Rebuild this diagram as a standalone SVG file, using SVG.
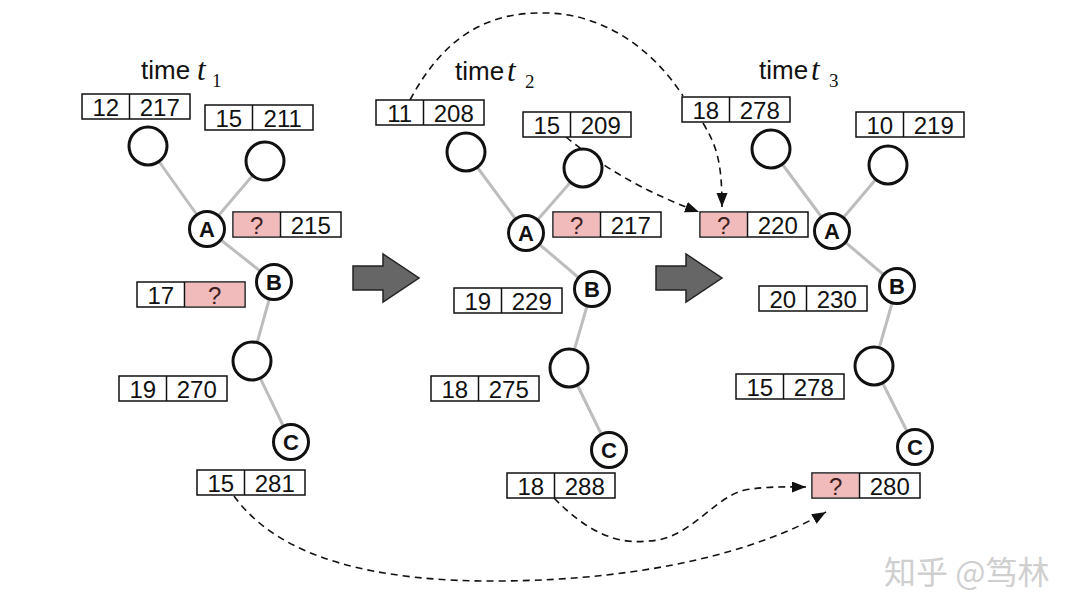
<svg xmlns="http://www.w3.org/2000/svg" width="1080" height="616" viewBox="0 0 1080 616">
<defs>
<marker id="ah" markerUnits="userSpaceOnUse" markerWidth="14" markerHeight="12" refX="14" refY="5.5" orient="auto">
<path d="M0,0 L14,5.5 L0,11 z" fill="#111"/>
</marker>
<style>
.bx{fill:#fff;stroke:#111;stroke-width:1.5}
.pk{fill:#f1bbbb}
.dv{stroke:#111;stroke-width:1.5}
.num{font-family:"Liberation Sans",Arial,sans-serif;font-size:24px;fill:#111;text-anchor:middle}
.q{fill:#3b1e1e}
.edge{stroke:#bdbdbd;stroke-width:3;fill:none}
.leaf{fill:#fff;stroke:#111;stroke-width:3}
.lab{fill:#fff;stroke:#111;stroke-width:3}
.lt{font-family:"Liberation Sans",Arial,sans-serif;font-size:22px;font-weight:bold;fill:#111;text-anchor:middle}
.tm{font-family:"Liberation Sans",Arial,sans-serif;font-size:26px;fill:#111}
.ti{font-family:"Liberation Serif","Times New Roman",serif;font-size:31px;font-style:italic;fill:#111}
.ts{font-family:"Liberation Serif","Times New Roman",serif;font-size:19px;fill:#111}
.dash{fill:none;stroke:#111;stroke-width:1.6;stroke-dasharray:7 5}
.big{fill:#666;stroke:#222;stroke-width:1.5;stroke-linejoin:miter}
.wm{font-family:"Noto Sans CJK SC","Liberation Sans",sans-serif;font-size:32px;fill:#cfcfcf}
</style>
</defs>
<rect width="1080" height="616" fill="#fff"/>

<!-- tree edges -->
<g id="edges">
<path class="edge" d="M148,146 L207,229 M265,161 L207,229 L274,282 L252,361 L291,442"/>
<path class="edge" d="M466,152 L526,233 M583,168 L526,233 L592,289 L569,368 L609,450"/>
<path class="edge" d="M771,149 L832,231 M888,165 L832,231 L897,286 L874,366 L915,447"/>
</g>

<!-- dashed connectors -->
<g id="connectors">
<path class="dash" d="M410,100 C450,25 500,12 547,13 C600,14 650,45 683,96"/>
<path class="dash" d="M703,123 C716,145 722,160 722,207" marker-end="url(#ah)"/>
<path class="dash" d="M566,137 C600,165 640,190 699,212" marker-end="url(#ah)"/>
<path class="dash" d="M234,496 C280,560 380,582 500,581 C650,580 760,550 826,512" marker-end="url(#ah)"/>
<path class="dash" d="M554,498 C585,530 615,545 648,541 C690,540 712,498 745,490 C768,486 786,487 806,487" marker-end="url(#ah)"/>
</g>

<!-- big arrows -->
<g id="arrow1"><polygon class="big" points="353,266 383,266 383,254 419,278 383,302 383,290 353,290"/></g>
<g id="arrow2"><polygon class="big" points="656,266 686,266 686,254 722,278 686,302 686,290 656,290"/></g>

<!-- titles -->
<g id="title1"><text class="tm" x="141" y="79">time</text><text class="ti" x="197" y="80">t</text><text class="ts" x="212" y="87">1</text></g>
<g id="title2"><text class="tm" x="455" y="80">time</text><text class="ti" x="507" y="81">t</text><text class="ts" x="525" y="88">2</text></g>
<g id="title3"><text class="tm" x="759" y="79">time</text><text class="ti" x="811" y="80">t</text><text class="ts" x="829" y="87">3</text></g>

<!-- panel 1 nodes -->
<g id="p1-leaf1"><circle class="leaf" cx="148" cy="146" r="19"/></g>
<g id="p1-leaf2"><circle class="leaf" cx="265" cy="161" r="19"/></g>
<g id="p1-A"><circle class="lab" cx="207" cy="229" r="17.5"/><text class="lt" x="207" y="237">A</text></g>
<g id="p1-B"><circle class="lab" cx="274" cy="282" r="17.5"/><text class="lt" x="274" y="290">B</text></g>
<g id="p1-mid"><circle class="leaf" cx="252" cy="361" r="19"/></g>
<g id="p1-C"><circle class="lab" cx="291" cy="442" r="17.5"/><text class="lt" x="291" y="450">C</text></g>

<g id="p1-b1" transform="translate(82,94)"><rect class="bx" width="108" height="25"/><line class="dv" x1="47.5" y1="0" x2="47.5" y2="25"/><text class="num" x="23.75" y="21.5">12</text><text class="num" x="77.75" y="21.5">217</text></g>
<g id="p1-b2" transform="translate(205,105)"><rect class="bx" width="108" height="25"/><line class="dv" x1="47.5" y1="0" x2="47.5" y2="25"/><text class="num" x="23.75" y="21.5">15</text><text class="num" x="77.75" y="21.5">211</text></g>
<g id="p1-b3" transform="translate(233,212)"><rect class="bx" width="108" height="25"/><rect class="pk" x="0.75" y="0.75" width="46" height="23.5"/><line class="dv" x1="47.5" y1="0" x2="47.5" y2="25"/><text class="num q" x="23.75" y="21.5">?</text><text class="num" x="77.75" y="21.5">215</text></g>
<g id="p1-b4" transform="translate(137,282)"><rect class="bx" width="108" height="25"/><rect class="pk" x="48.25" y="0.75" width="59" height="23.5"/><line class="dv" x1="47.5" y1="0" x2="47.5" y2="25"/><text class="num" x="23.75" y="21.5">17</text><text class="num q" x="77.75" y="21.5">?</text></g>
<g id="p1-b5" transform="translate(119,376)"><rect class="bx" width="108" height="25"/><line class="dv" x1="47.5" y1="0" x2="47.5" y2="25"/><text class="num" x="23.75" y="21.5">19</text><text class="num" x="77.75" y="21.5">270</text></g>
<g id="p1-b6" transform="translate(197,470)"><rect class="bx" width="108" height="25"/><line class="dv" x1="47.5" y1="0" x2="47.5" y2="25"/><text class="num" x="23.75" y="21.5">15</text><text class="num" x="77.75" y="21.5">281</text></g>

<!-- panel 2 nodes -->
<g id="p2-leaf1"><circle class="leaf" cx="466" cy="152" r="19"/></g>
<g id="p2-leaf2"><circle class="leaf" cx="583" cy="168" r="19"/></g>
<g id="p2-A"><circle class="lab" cx="526" cy="233" r="17.5"/><text class="lt" x="526" y="241">A</text></g>
<g id="p2-B"><circle class="lab" cx="592" cy="289" r="17.5"/><text class="lt" x="592" y="297">B</text></g>
<g id="p2-mid"><circle class="leaf" cx="569" cy="368" r="19"/></g>
<g id="p2-C"><circle class="lab" cx="609" cy="450" r="17.5"/><text class="lt" x="609" y="458">C</text></g>

<g id="p2-b1" transform="translate(376,100)"><rect class="bx" width="108" height="25"/><line class="dv" x1="47.5" y1="0" x2="47.5" y2="25"/><text class="num" x="23.75" y="21.5">11</text><text class="num" x="77.75" y="21.5">208</text></g>
<g id="p2-b2" transform="translate(523,112)"><rect class="bx" width="108" height="25"/><line class="dv" x1="47.5" y1="0" x2="47.5" y2="25"/><text class="num" x="23.75" y="21.5">15</text><text class="num" x="77.75" y="21.5">209</text></g>
<g id="p2-b3" transform="translate(553,212)"><rect class="bx" width="108" height="25"/><rect class="pk" x="0.75" y="0.75" width="46" height="23.5"/><line class="dv" x1="47.5" y1="0" x2="47.5" y2="25"/><text class="num q" x="23.75" y="21.5">?</text><text class="num" x="77.75" y="21.5">217</text></g>
<g id="p2-b4" transform="translate(454,288)"><rect class="bx" width="108" height="25"/><line class="dv" x1="47.5" y1="0" x2="47.5" y2="25"/><text class="num" x="23.75" y="21.5">19</text><text class="num" x="77.75" y="21.5">229</text></g>
<g id="p2-b5" transform="translate(431,376)"><rect class="bx" width="108" height="25"/><line class="dv" x1="47.5" y1="0" x2="47.5" y2="25"/><text class="num" x="23.75" y="21.5">18</text><text class="num" x="77.75" y="21.5">275</text></g>
<g id="p2-b6" transform="translate(507,473)"><rect class="bx" width="108" height="25"/><line class="dv" x1="47.5" y1="0" x2="47.5" y2="25"/><text class="num" x="23.75" y="21.5">18</text><text class="num" x="77.75" y="21.5">288</text></g>

<!-- panel 3 nodes -->
<g id="p3-leaf1"><circle class="leaf" cx="771" cy="149" r="19"/></g>
<g id="p3-leaf2"><circle class="leaf" cx="888" cy="165" r="19"/></g>
<g id="p3-A"><circle class="lab" cx="832" cy="231" r="17.5"/><text class="lt" x="832" y="239">A</text></g>
<g id="p3-B"><circle class="lab" cx="897" cy="286" r="17.5"/><text class="lt" x="897" y="294">B</text></g>
<g id="p3-mid"><circle class="leaf" cx="874" cy="366" r="19"/></g>
<g id="p3-C"><circle class="lab" cx="915" cy="447" r="17.5"/><text class="lt" x="915" y="455">C</text></g>

<g id="p3-b1" transform="translate(682,97)"><rect class="bx" width="108" height="25"/><line class="dv" x1="47.5" y1="0" x2="47.5" y2="25"/><text class="num" x="23.75" y="21.5">18</text><text class="num" x="77.75" y="21.5">278</text></g>
<g id="p3-b2" transform="translate(856,112)"><rect class="bx" width="108" height="25"/><line class="dv" x1="47.5" y1="0" x2="47.5" y2="25"/><text class="num" x="23.75" y="21.5">10</text><text class="num" x="77.75" y="21.5">219</text></g>
<g id="p3-b3" transform="translate(700,212)"><rect class="bx" width="108" height="25"/><rect class="pk" x="0.75" y="0.75" width="46" height="23.5"/><line class="dv" x1="47.5" y1="0" x2="47.5" y2="25"/><text class="num q" x="23.75" y="21.5">?</text><text class="num" x="77.75" y="21.5">220</text></g>
<g id="p3-b4" transform="translate(759,286)"><rect class="bx" width="108" height="25"/><line class="dv" x1="47.5" y1="0" x2="47.5" y2="25"/><text class="num" x="23.75" y="21.5">20</text><text class="num" x="77.75" y="21.5">230</text></g>
<g id="p3-b5" transform="translate(736,374)"><rect class="bx" width="108" height="25"/><line class="dv" x1="47.5" y1="0" x2="47.5" y2="25"/><text class="num" x="23.75" y="21.5">15</text><text class="num" x="77.75" y="21.5">278</text></g>
<g id="p3-b6" transform="translate(812,473)"><rect class="bx" width="108" height="25"/><rect class="pk" x="0.75" y="0.75" width="46" height="23.5"/><line class="dv" x1="47.5" y1="0" x2="47.5" y2="25"/><text class="num q" x="23.75" y="21.5">?</text><text class="num" x="77.75" y="21.5">280</text></g>

<g id="watermark"><text class="wm" x="884" y="584">知乎 @笃林</text></g>
</svg>
